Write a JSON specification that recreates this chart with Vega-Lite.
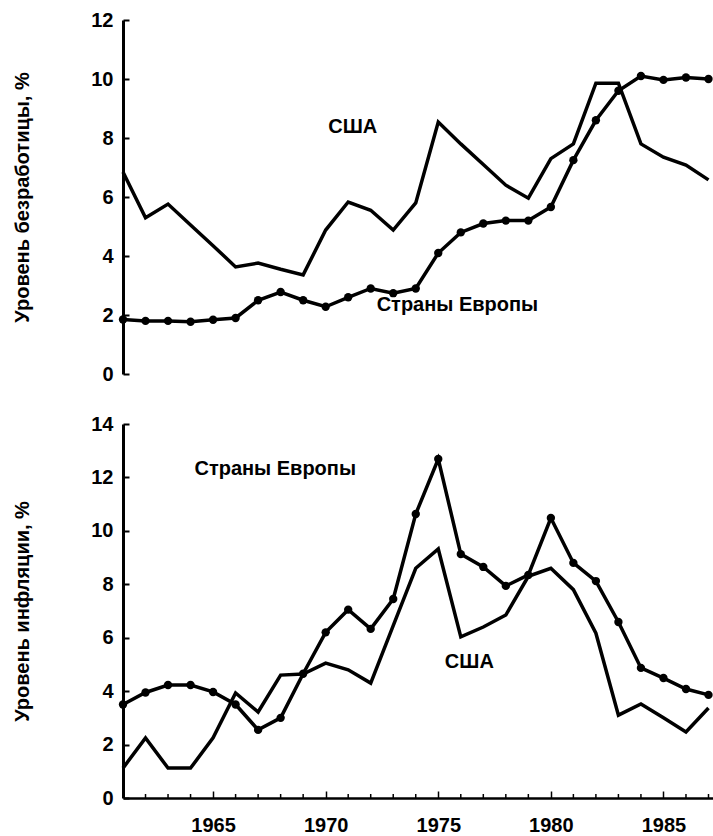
{
  "$schema": "https://vega.github.io/schema/vega-lite/v6.json",
  "background": "white",
  "padding": {"top": 10, "left": 12, "right": 0, "bottom": 0},
  "spacing": 30,
  "config": {
    "font": "Liberation Sans",
    "view": {"stroke": null},
    "axis": {
      "domainColor": "black",
      "tickColor": "black",
      "labelColor": "black",
      "titleColor": "black",
      "grid": false,
      "labelFontSize": 20,
      "labelFontWeight": "bold",
      "titleFontSize": 20,
      "titleFontWeight": "bold",
      "labelFont": "Liberation Sans",
      "titleFont": "Liberation Sans"
    },
    "text": {"font": "Liberation Sans", "fontSize": 20, "fontWeight": "bold", "color": "black"}
  },
  "datasets": {
    "unemp": [
      {"year": 1961, "country": "США", "value": 6.85},
      {"year": 1962, "country": "США", "value": 5.3},
      {"year": 1963, "country": "США", "value": 5.76},
      {"year": 1964, "country": "США", "value": 5.05},
      {"year": 1965, "country": "США", "value": 4.35},
      {"year": 1966, "country": "США", "value": 3.63},
      {"year": 1967, "country": "США", "value": 3.76},
      {"year": 1968, "country": "США", "value": 3.55},
      {"year": 1969, "country": "США", "value": 3.36},
      {"year": 1970, "country": "США", "value": 4.88},
      {"year": 1971, "country": "США", "value": 5.83},
      {"year": 1972, "country": "США", "value": 5.55},
      {"year": 1973, "country": "США", "value": 4.88},
      {"year": 1974, "country": "США", "value": 5.8},
      {"year": 1975, "country": "США", "value": 8.54},
      {"year": 1976, "country": "США", "value": 7.8},
      {"year": 1977, "country": "США", "value": 7.1},
      {"year": 1978, "country": "США", "value": 6.4},
      {"year": 1979, "country": "США", "value": 5.96},
      {"year": 1980, "country": "США", "value": 7.3},
      {"year": 1981, "country": "США", "value": 7.8},
      {"year": 1982, "country": "США", "value": 9.86},
      {"year": 1983, "country": "США", "value": 9.86},
      {"year": 1984, "country": "США", "value": 7.8},
      {"year": 1985, "country": "США", "value": 7.35},
      {"year": 1986, "country": "США", "value": 7.08},
      {"year": 1987, "country": "США", "value": 6.58},
      {"year": 1961, "country": "Страны Европы", "value": 1.85},
      {"year": 1962, "country": "Страны Европы", "value": 1.8},
      {"year": 1963, "country": "Страны Европы", "value": 1.8},
      {"year": 1964, "country": "Страны Европы", "value": 1.77},
      {"year": 1965, "country": "Страны Европы", "value": 1.84},
      {"year": 1966, "country": "Страны Европы", "value": 1.9},
      {"year": 1967, "country": "Страны Европы", "value": 2.5},
      {"year": 1968, "country": "Страны Европы", "value": 2.78},
      {"year": 1969, "country": "Страны Европы", "value": 2.5},
      {"year": 1970, "country": "Страны Европы", "value": 2.28},
      {"year": 1971, "country": "Страны Европы", "value": 2.6},
      {"year": 1972, "country": "Страны Европы", "value": 2.9},
      {"year": 1973, "country": "Страны Европы", "value": 2.74},
      {"year": 1974, "country": "Страны Европы", "value": 2.9},
      {"year": 1975, "country": "Страны Европы", "value": 4.1},
      {"year": 1976, "country": "Страны Европы", "value": 4.8},
      {"year": 1977, "country": "Страны Европы", "value": 5.1},
      {"year": 1978, "country": "Страны Европы", "value": 5.2},
      {"year": 1979, "country": "Страны Европы", "value": 5.2},
      {"year": 1980, "country": "Страны Европы", "value": 5.66},
      {"year": 1981, "country": "Страны Европы", "value": 7.25},
      {"year": 1982, "country": "Страны Европы", "value": 8.6},
      {"year": 1983, "country": "Страны Европы", "value": 9.6},
      {"year": 1984, "country": "Страны Европы", "value": 10.1},
      {"year": 1985, "country": "Страны Европы", "value": 9.97},
      {"year": 1986, "country": "Страны Европы", "value": 10.05},
      {"year": 1987, "country": "Страны Европы", "value": 10.0}
    ],
    "infl": [
      {"year": 1961, "country": "США", "value": 1.12},
      {"year": 1962, "country": "США", "value": 2.25},
      {"year": 1963, "country": "США", "value": 1.12},
      {"year": 1964, "country": "США", "value": 1.12},
      {"year": 1965, "country": "США", "value": 2.25},
      {"year": 1966, "country": "США", "value": 3.93},
      {"year": 1967, "country": "США", "value": 3.22},
      {"year": 1968, "country": "США", "value": 4.6},
      {"year": 1969, "country": "США", "value": 4.64},
      {"year": 1970, "country": "США", "value": 5.05},
      {"year": 1971, "country": "США", "value": 4.8},
      {"year": 1972, "country": "США", "value": 4.3},
      {"year": 1973, "country": "США", "value": 6.45},
      {"year": 1974, "country": "США", "value": 8.6},
      {"year": 1975, "country": "США", "value": 9.32},
      {"year": 1976, "country": "США", "value": 6.03},
      {"year": 1977, "country": "США", "value": 6.4},
      {"year": 1978, "country": "США", "value": 6.85},
      {"year": 1979, "country": "США", "value": 8.3},
      {"year": 1980, "country": "США", "value": 8.6},
      {"year": 1981, "country": "США", "value": 7.8},
      {"year": 1982, "country": "США", "value": 6.17},
      {"year": 1983, "country": "США", "value": 3.1},
      {"year": 1984, "country": "США", "value": 3.52},
      {"year": 1985, "country": "США", "value": 3.0},
      {"year": 1986, "country": "США", "value": 2.47},
      {"year": 1987, "country": "США", "value": 3.37},
      {"year": 1961, "country": "Страны Европы", "value": 3.5},
      {"year": 1962, "country": "Страны Европы", "value": 3.95},
      {"year": 1963, "country": "Страны Европы", "value": 4.23},
      {"year": 1964, "country": "Страны Европы", "value": 4.23},
      {"year": 1965, "country": "Страны Европы", "value": 3.97},
      {"year": 1966, "country": "Страны Европы", "value": 3.5},
      {"year": 1967, "country": "Страны Европы", "value": 2.55},
      {"year": 1968, "country": "Страны Европы", "value": 3.0},
      {"year": 1969, "country": "Страны Европы", "value": 4.65},
      {"year": 1970, "country": "Страны Европы", "value": 6.2},
      {"year": 1971, "country": "Страны Европы", "value": 7.05},
      {"year": 1972, "country": "Страны Европы", "value": 6.33},
      {"year": 1973, "country": "Страны Европы", "value": 7.45},
      {"year": 1974, "country": "Страны Европы", "value": 10.63},
      {"year": 1975, "country": "Страны Европы", "value": 12.69},
      {"year": 1976, "country": "Страны Европы", "value": 9.13},
      {"year": 1977, "country": "Страны Европы", "value": 8.65},
      {"year": 1978, "country": "Страны Европы", "value": 7.94},
      {"year": 1979, "country": "Страны Европы", "value": 8.35},
      {"year": 1980, "country": "Страны Европы", "value": 10.48},
      {"year": 1981, "country": "Страны Европы", "value": 8.8},
      {"year": 1982, "country": "Страны Европы", "value": 8.12},
      {"year": 1983, "country": "Страны Европы", "value": 6.59},
      {"year": 1984, "country": "Страны Европы", "value": 4.87},
      {"year": 1985, "country": "Страны Европы", "value": 4.49},
      {"year": 1986, "country": "Страны Европы", "value": 4.08},
      {"year": 1987, "country": "Страны Европы", "value": 3.86}
    ],
    "minorTicks": [
      {"year": 1961}, {"year": 1962}, {"year": 1963}, {"year": 1964}, {"year": 1966},
      {"year": 1967}, {"year": 1968}, {"year": 1969}, {"year": 1971}, {"year": 1972},
      {"year": 1973}, {"year": 1974}, {"year": 1976}, {"year": 1977}, {"year": 1978},
      {"year": 1979}, {"year": 1981}, {"year": 1982}, {"year": 1983}, {"year": 1984},
      {"year": 1986}, {"year": 1987}
    ],
    "labelsTop": [
      {"year": 1971.2, "value": 8.37, "text": "США"},
      {"year": 1975.85, "value": 2.33, "text": "Страны Европы"}
    ],
    "labelsBottom": [
      {"year": 1967.76, "value": 12.3, "text": "Страны Европы"},
      {"year": 1976.38, "value": 5.09, "text": "США"}
    ]
  },
  "vconcat": [
    {
      "width": 590,
      "height": 354,
      "layer": [
        {
          "data": {"name": "unemp"},
          "mark": {"type": "line", "color": "black", "strokeWidth": 3.5},
          "encoding": {
            "x": {"field": "year", "type": "quantitative", "scale": {"domain": [1961, 1987.2], "nice": false, "zero": false}, "axis": null},
            "y": {"field": "value", "type": "quantitative", "scale": {"domain": [0, 12], "nice": false},
              "axis": {"title": "Уровень безработицы, %", "values": [0, 2, 4, 6, 8, 10, 12], "domainWidth": 3, "tickSize": -6, "tickWidth": 2, "labelPadding": 16, "titlePadding": 58}},
            "detail": {"field": "country"}
          }
        },
        {
          "data": {"name": "unemp"},
          "transform": [{"filter": "datum.country === 'Страны Европы'"}],
          "mark": {"type": "point", "filled": true, "color": "black", "size": 70, "opacity": 1},
          "encoding": {
            "x": {"field": "year", "type": "quantitative"},
            "y": {"field": "value", "type": "quantitative"}
          }
        },
        {
          "data": {"name": "labelsTop"},
          "mark": {"type": "text", "align": "center", "baseline": "middle"},
          "encoding": {
            "x": {"field": "year", "type": "quantitative"},
            "y": {"field": "value", "type": "quantitative"},
            "text": {"field": "text"}
          }
        }
      ]
    },
    {
      "width": 590,
      "height": 374,
      "layer": [
        {
          "data": {"name": "infl"},
          "mark": {"type": "line", "color": "black", "strokeWidth": 3.5},
          "encoding": {
            "x": {"field": "year", "type": "quantitative", "scale": {"domain": [1961, 1987.2], "nice": false, "zero": false},
              "axis": {"title": null, "values": [1965, 1970, 1975, 1980, 1985], "format": "d",
                "labelOverlap": false, "labelFlush": false,
                "domainWidth": 2.5, "tickWidth": 1.5, "tickSize": -7,
                "labelPadding": 24}},
            "y": {"field": "value", "type": "quantitative", "scale": {"domain": [0, 14], "nice": false},
              "axis": {"title": "Уровень инфляции, %", "values": [0, 2, 4, 6, 8, 10, 12, 14], "domainWidth": 3, "tickSize": -6, "tickWidth": 2, "labelPadding": 16, "titlePadding": 58}},
            "detail": {"field": "country"}
          }
        },
        {
          "data": {"name": "minorTicks"},
          "mark": {"type": "tick", "orient": "vertical", "color": "black", "size": 4, "thickness": 1.5, "yOffset": -2, "opacity": 1},
          "encoding": {
            "x": {"field": "year", "type": "quantitative"},
            "y": {"datum": 0, "type": "quantitative"}
          }
        },
        {
          "data": {"name": "infl"},
          "transform": [{"filter": "datum.country === 'Страны Европы'"}],
          "mark": {"type": "point", "filled": true, "color": "black", "size": 70, "opacity": 1},
          "encoding": {
            "x": {"field": "year", "type": "quantitative"},
            "y": {"field": "value", "type": "quantitative"}
          }
        },
        {
          "data": {"name": "labelsBottom"},
          "mark": {"type": "text", "align": "center", "baseline": "middle"},
          "encoding": {
            "x": {"field": "year", "type": "quantitative"},
            "y": {"field": "value", "type": "quantitative"},
            "text": {"field": "text"}
          }
        }
      ]
    }
  ]
}
